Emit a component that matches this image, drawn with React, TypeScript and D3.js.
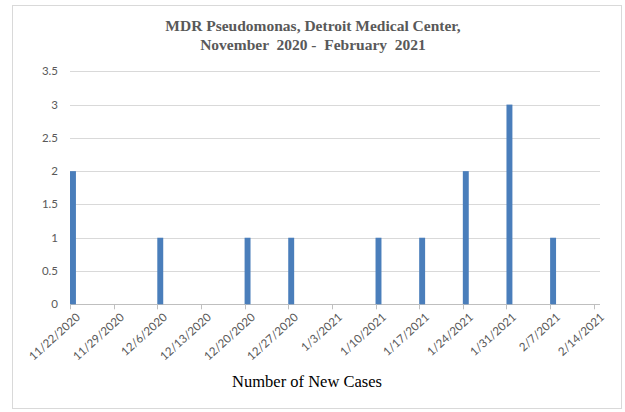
import React from "react"
import * as d3 from "d3"

// weekly ticks on the date axis
const tickLabels = [
    "11/22/2020", "11/29/2020", "12/6/2020", "12/13/2020", "12/20/2020", "12/27/2020",
    "1/3/2021", "1/10/2021", "1/17/2021", "1/24/2021", "1/31/2021", "2/7/2021", "2/14/2021",
]

// days with new cases
const caseDates = [
    "11/22/2020", "12/6/2020", "12/20/2020", "12/27/2020", "1/10/2021",
    "1/17/2021", "1/24/2021", "1/31/2021", "2/7/2021",
]
const caseCounts = [2, 1, 1, 1, 1, 1, 2, 3, 1]

const yTicks = [0, 0.5, 1, 1.5, 2, 2.5, 3, 3.5]

const titleLines = ["MDR Pseudomonas, Detroit Medical Center,", "November  2020 -  February  2021"]
const xTitle = "Number of New Cases"

const width = 625
const height = 412
const parse = d3.utcParse("%m/%d/%Y")

function App() {
    const [left, right, top, bottom] = [70, 600, 71.3, 304.3]

    const firstDay = parse(tickLabels[0]) as Date
    const lastDay = d3.utcDay.offset(parse(tickLabels[tickLabels.length - 1]) as Date, 1)

    const x = d3.scaleUtc().domain([firstDay, lastDay]).range([left, right])
    const y = d3.scaleLinear().domain([0, 3.5]).range([bottom, top])

    const barColor = "#4a7ebb"
    const gridColor = "#d9d9d9"
    const labelColor = "#595959"

    return (
        <svg width={width} height={height} style={{ position: "absolute", left: 0, top: 0, background: "#fff" }}>
            <rect x={12.5} y={5.5} width={609} height={403} fill="#fff" stroke={gridColor} />

            {titleLines.map((t, i) => (
                <text key={i} x={313} y={31 + i * 19} textAnchor="middle"
                    style={{ whiteSpace: "pre" }}
                    fontFamily="'Liberation Serif', 'Times New Roman', serif" fontWeight="bold"
                    fontSize={15.5} fill={labelColor}>{t}</text>
            ))}

            {/* gridlines + y labels */}
            {yTicks.map((t) => (
                <g key={t}>
                    <line x1={left} x2={right} y1={Math.round(y(t)) + 0.5} y2={Math.round(y(t)) + 0.5}
                        stroke={t === 0 ? "#bfbfbf" : gridColor} />
                    <text x={58} y={y(t)} dy="0.35em" textAnchor="end" fontFamily="Lato, 'Open Sans', sans-serif"
                        fontSize={11.5} fill={labelColor}>{t}</text>
                </g>
            ))}

            {/* bars */}
            {caseDates.map((d, i) => {
                const day = parse(d) as Date
                const x0 = x(day)
                const x1 = x(d3.utcDay.offset(day, 1))
                return (
                    <rect key={d} x={x0} width={x1 - x0 - 0.3} y={y(caseCounts[i])}
                        height={y(0) - y(caseCounts[i])} fill={barColor} />
                )
            })}

            {/* x ticks + labels */}
            {tickLabels.map((lab) => {
                const tx = Math.round(x(parse(lab) as Date)) + 0.5
                return (
                    <g key={lab}>
                        <line x1={tx} x2={tx} y1={bottom} y2={bottom + 5} stroke="#bfbfbf" />
                        <text transform={`translate(${tx + 5},${bottom + 8}) rotate(-42)`}
                            textAnchor="end" dy="0.7em" fontFamily="Lato, 'Open Sans', sans-serif"
                            fontSize={11.5} fill={labelColor}>{lab}</text>
                    </g>
                )
            })}

            <text x={307} y={387} textAnchor="middle" fontFamily="'Liberation Serif', 'Times New Roman', serif"
                fontSize={16.5} fill="#000">{xTitle}</text>
        </svg>
    )
}

export default App
